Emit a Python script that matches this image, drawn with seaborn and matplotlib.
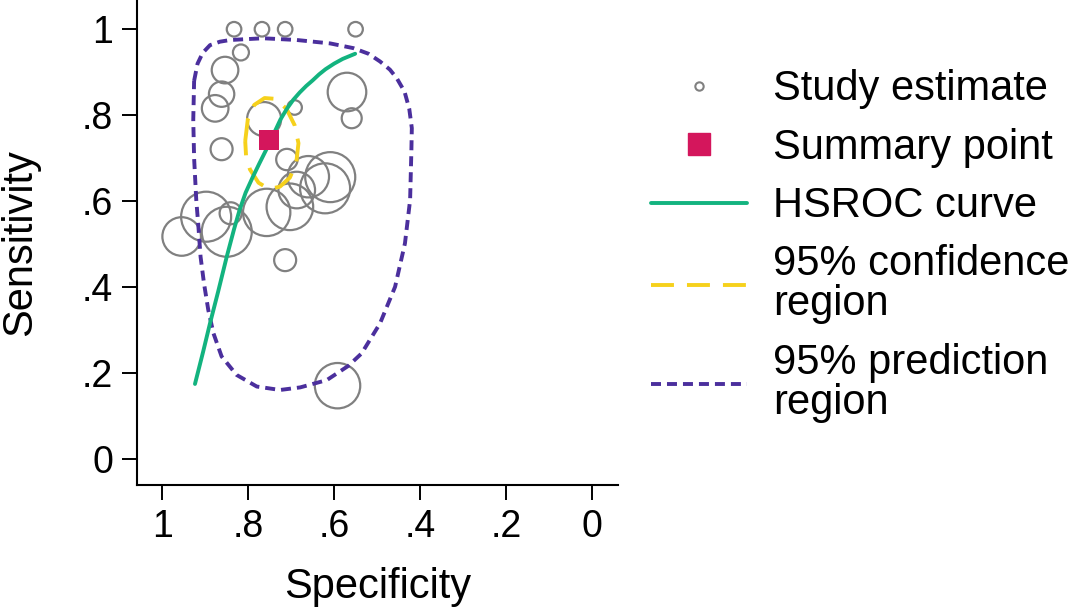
import numpy as np
import pandas as pd
import matplotlib
matplotlib.use("Agg")
import matplotlib.pyplot as plt
from matplotlib.lines import Line2D
import seaborn as sns

# study estimates (specificity, sensitivity, weight ~ bubble area)
study_spec = [0.833, 0.768, 0.714, 0.550, 0.817, 0.854, 0.862, 0.877, 0.862,
              0.763, 0.692, 0.570, 0.559, 0.710, 0.609, 0.621, 0.660, 0.687,
              0.703, 0.757, 0.898, 0.955, 0.850, 0.841, 0.714, 0.592]
study_sens = [1.000, 1.000, 1.000, 1.000, 0.946, 0.905, 0.849, 0.816, 0.721,
              0.791, 0.818, 0.854, 0.793, 0.697, 0.656, 0.630, 0.657, 0.626,
              0.587, 0.574, 0.564, 0.518, 0.529, 0.572, 0.463, 0.171]
study_weight = [53, 53, 53, 53, 64, 177, 161, 177, 121,
                290, 53, 372, 100, 114, 625, 625, 428, 335,
                543, 560, 625, 372, 625, 121, 121, 515]

# summary point
summary_spec = [0.751]
summary_sens = [0.743]

# HSROC curve
hsroc_spec = [0.924, 0.905, 0.889, 0.870, 0.850, 0.833, 0.820, 0.806, 0.790,
              0.774, 0.757, 0.741, 0.725, 0.710, 0.695, 0.680, 0.665, 0.650,
              0.635, 0.620, 0.600, 0.580, 0.551]
hsroc_sens = [0.175, 0.250, 0.316, 0.390, 0.471, 0.535, 0.580, 0.620, 0.655,
              0.688, 0.722, 0.756, 0.790, 0.815, 0.836, 0.853, 0.868, 0.881,
              0.895, 0.907, 0.920, 0.931, 0.943]

# 95% confidence region
conf_spec = [0.807, 0.801, 0.786, 0.762, 0.736, 0.711, 0.692, 0.683, 0.688,
             0.703, 0.726, 0.751, 0.776, 0.796, 0.805, 0.807]
conf_sens = [0.740, 0.790, 0.824, 0.840, 0.838, 0.815, 0.777, 0.735, 0.690,
             0.655, 0.634, 0.628, 0.643, 0.674, 0.705, 0.740]

# 95% prediction region
pred_spec = [0.926, 0.918, 0.906, 0.889, 0.866, 0.842, 0.765, 0.687, 0.609,
             0.555, 0.520, 0.493, 0.470, 0.454, 0.436, 0.425, 0.419, 0.420,
             0.423, 0.435, 0.458, 0.493, 0.536, 0.567, 0.617, 0.679, 0.726,
             0.780, 0.827, 0.862, 0.881, 0.893, 0.903, 0.911, 0.916, 0.921,
             0.926, 0.928, 0.926]
pred_sens = [0.880, 0.920, 0.945, 0.963, 0.971, 0.975, 0.979, 0.975, 0.967,
             0.956, 0.943, 0.925, 0.906, 0.886, 0.855, 0.815, 0.770, 0.719,
             0.603, 0.502, 0.401, 0.316, 0.246, 0.217, 0.184, 0.167, 0.161,
             0.169, 0.196, 0.239, 0.293, 0.347, 0.409, 0.471, 0.541, 0.603,
             0.700, 0.789, 0.880]

spec_ticks = [1, 0.8, 0.6, 0.4, 0.2, 0]
tick_labels = ["1", ".8", ".6", ".4", ".2", "0"]

GREY = "#808080"
CRIMSON = "#d4165c"
GREEN = "#13b37f"
YELLOW = "#f6d11c"
PURPLE = "#4b2f9d"
LW = 2.8
CONF_DASH = [5.9, 3.35]
PRED_DASH = [2.57, 1.54]

sns.set_style("ticks")
plt.rcParams["font.family"] = ["Liberation Sans", "DejaVu Sans"]
plt.rcParams["text.color"] = "black"
plt.rcParams["axes.labelcolor"] = "black"

fig = plt.figure(figsize=(10.7, 6.09), dpi=100)
ax = fig.add_axes([0.1278, 0.2036, 0.4498, 0.7964])

studies = pd.DataFrame({"spec": study_spec, "sens": study_sens, "weight": study_weight})
w_min, w_max = min(study_weight), max(study_weight)
sns.scatterplot(data=studies, x="spec", y="sens", size="weight",
                sizes=(2.0736 * w_min, 2.0736 * w_max), size_norm=(w_min, w_max),
                facecolor="none", edgecolor=GREY, linewidth=1.6,
                legend=False, ax=ax, zorder=2)

sns.lineplot(x=pred_spec, y=pred_sens, sort=False, estimator=None, color=PURPLE,
             linewidth=LW, ax=ax, zorder=3)
ax.lines[-1].set_dashes(PRED_DASH)
sns.lineplot(x=conf_spec, y=conf_sens, sort=False, estimator=None, color=YELLOW,
             linewidth=LW, ax=ax, zorder=3)
ax.lines[-1].set_dashes(CONF_DASH)
sns.lineplot(x=hsroc_spec, y=hsroc_sens, sort=False, estimator=None, color=GREEN,
             linewidth=LW, ax=ax, zorder=4)
ax.scatter(summary_spec, summary_sens, marker="s", s=225, color=CRIMSON,
           linewidth=0, zorder=5)

ax.set_xlim(1.0596, -0.0612)
ax.set_ylim(-0.06, 1.068)
ax.set_xticks(spec_ticks)
ax.set_xticklabels(tick_labels)
ax.set_yticks(spec_ticks)
ax.set_yticklabels(tick_labels)
ax.tick_params(axis="both", labelsize=27, length=11, width=1.4, color="black",
               labelcolor="black", pad=6)
for side in ["top", "right"]:
    ax.spines[side].set_visible(False)
for side in ["left", "bottom"]:
    ax.spines[side].set_linewidth(1.5)
    ax.spines[side].set_color("black")
ax.set_xlabel("Specificity", fontsize=30, labelpad=16)
ax.set_ylabel("Sensitivity", fontsize=30, labelpad=30)

handles = [
    Line2D([], [], linestyle="none", marker="o", markersize=6, mfc="none",
           mec=GREY, mew=1.5),
    Line2D([], [], linestyle="none", marker="s", markersize=16, mfc=CRIMSON, mec=CRIMSON),
    Line2D([], [], color=GREEN, linewidth=LW),
    Line2D([], [], color=YELLOW, linewidth=LW, dashes=CONF_DASH),
    Line2D([], [], color=PURPLE, linewidth=LW, dashes=PRED_DASH),
]
labels = ["Study estimate", "Summary point", "HSROC curve",
          "95% confidence\nregion", "95% prediction\nregion"]
leg = fig.legend(handles, labels, loc="upper left", bbox_to_anchor=(651 / 1070, 0.886),
                 frameon=False, fontsize=30, handlelength=2.3, handletextpad=0.63,
                 labelspacing=0.44, borderpad=0, borderaxespad=0)
for t in leg.get_texts():
    t.set_linespacing(1.0)
    t.set_color("black")

fig.savefig("out.png", dpi=100)
